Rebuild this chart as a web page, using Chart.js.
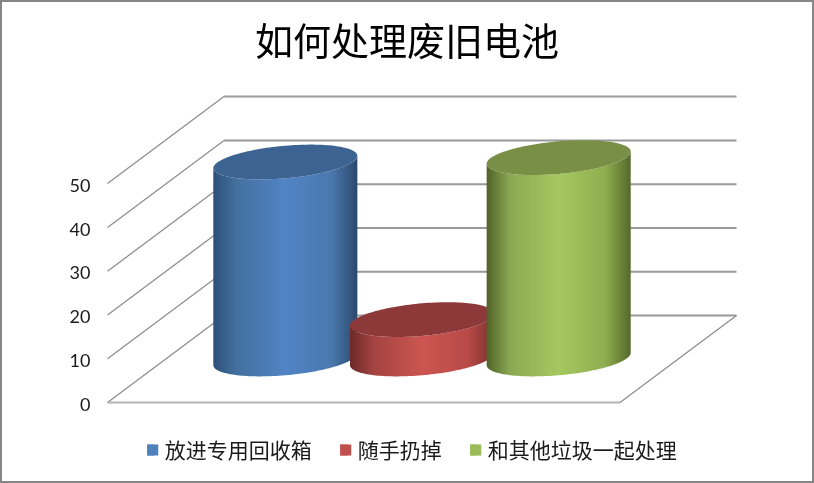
<!DOCTYPE html>
<html>
<head>
<meta charset="utf-8">
<title>如何处理废旧电池</title>
<style>
    html, body { margin: 0; padding: 0; background: #fff; }
    #wrap { position: relative; width: 814px; height: 483px; }
    #frame { position: absolute; inset: 0; box-sizing: border-box; border: 2px solid #868686; pointer-events: none; }
</style>
<script src="https://cdn.jsdelivr.net/npm/chart.js@4/dist/chart.umd.js"></script>
</head>
<body>
<div id="wrap">
    <canvas id="chart" width="814" height="483"></canvas>
    <div id="frame"></div>
</div>
<script>
const chartTitle = "如何处理废旧电池";
const categories = ["处理方式"];
const seriesNames = ["放进专用回收箱", "随手扔掉", "和其他垃圾一起处理"];
const recycleBin = [45];
const throwAway = [9];
const withTrash = [46];
const yTicks = [0, 10, 20, 30, 40, 50];

const legendColors = ["#4f81bd", "#c0504d", "#9bbb59"];
const topColors = ["#3c6391", "#8e3939", "#788f45"];
const bodyStops = [
    ["#2d4f78", "#43709f", "#5184c4", "#4a78ae", "#2b486c"],
    ["#6b2a28", "#a34341", "#cc5550", "#b84a47", "#7c302e"],
    ["#4f6228", "#8aa852", "#a6c85f", "#8fae50", "#556a2b"]
];
const stopAt = [0, 0.16, 0.5, 0.82, 1];

// how far the bars and the back wall sit behind the front plane
const backWall = { dx: 116.5, dy: -87 };
const barDepth = 0.5;

function drawWalls(chart) {
    const { ctx, chartArea, scales } = chart;
    const left = chartArea.left;
    const right = chartArea.right;
    ctx.save();
    yTicks.forEach(function (tick) {
        const y = scales.y.getPixelForValue(tick);
        ctx.strokeStyle = "#8c8c8c";
        ctx.lineWidth = 1.25;
        ctx.beginPath();
        ctx.moveTo(left, y);
        ctx.lineTo(left + backWall.dx, y + backWall.dy);
        ctx.stroke();
        ctx.strokeStyle = "#999999";
        ctx.lineWidth = 2;
        ctx.beginPath();
        ctx.moveTo(left + backWall.dx, y + backWall.dy);
        ctx.lineTo(right + backWall.dx, y + backWall.dy);
        ctx.stroke();
    });
    const floorY = scales.y.getPixelForValue(0);
    ctx.strokeStyle = "#8c8c8c";
    ctx.lineWidth = 1.25;
    ctx.beginPath();
    ctx.moveTo(right, floorY);
    ctx.lineTo(right + backWall.dx, floorY + backWall.dy);
    ctx.stroke();
    ctx.strokeStyle = "#b4b4b4";
    ctx.lineWidth = 2;
    ctx.beginPath();
    ctx.moveTo(left, floorY);
    ctx.lineTo(right, floorY);
    ctx.stroke();
    ctx.restore();
}

function ellipsePoint(cx, cy, halfWidth, t) {
    return {
        x: cx + halfWidth * Math.cos(t),
        y: cy - halfWidth * 0.085 * Math.cos(t) + halfWidth * 0.226 * Math.sin(t)
    };
}

function drawCylinder(ctx, bar, index) {
    const halfWidth = bar.width / 2;
    const cx = bar.x + backWall.dx * barDepth;
    const topY = bar.y + backWall.dy * barDepth;
    const baseY = bar.base + backWall.dy * barDepth;
    const steps = 72;

    const gradient = ctx.createLinearGradient(cx - halfWidth, 0, cx + halfWidth, 0);
    bodyStops[index].forEach(function (color, i) {
        gradient.addColorStop(stopAt[i], color);
    });

    ctx.beginPath();
    for (let i = 0; i <= steps; i++) {
        const p = ellipsePoint(cx, baseY, halfWidth, Math.PI - Math.PI * i / steps);
        ctx.lineTo(p.x, p.y);
    }
    for (let i = 0; i <= steps; i++) {
        const p = ellipsePoint(cx, topY, halfWidth, Math.PI * i / steps);
        ctx.lineTo(p.x, p.y);
    }
    ctx.closePath();
    ctx.fillStyle = gradient;
    ctx.fill();

    ctx.beginPath();
    for (let i = 0; i <= steps * 2; i++) {
        const p = ellipsePoint(cx, topY, halfWidth, Math.PI * i / steps);
        ctx.lineTo(p.x, p.y);
    }
    ctx.closePath();
    ctx.fillStyle = topColors[index];
    ctx.fill();
}

const cylinderPlugin = {
    id: "cylinders",
    afterLayout(chart) {
        // title and legend are centred on the whole picture, not on the front plane
        chart.titleBlock.left += 97;
        chart.titleBlock.right += 97;
        chart.legend.left += 102;
        chart.legend.right += 102;
        chart.legend.top += 8.5;
        chart.legend.bottom += 8.5;
    },
    beforeDatasetsDraw(chart) {
        drawWalls(chart);
    },
    beforeDatasetDraw() {
        return false;
    },
    afterDatasetsDraw(chart) {
        // front bars overlap the ones before them, so keep series order here
        chart.data.datasets.forEach(function (dataset, index) {
            chart.getDatasetMeta(index).data.forEach(function (bar) {
                drawCylinder(chart.ctx, bar, index);
            });
        });
    },
    afterDraw(chart) {
        const ctx = chart.ctx;
        chart.legend.legendHitBoxes.forEach(function (box, index) {
            ctx.fillStyle = legendColors[index];
            ctx.fillRect(box.left, box.top + (box.height - 11) / 2, 11, 11);
        });
    }
};

new Chart(document.getElementById("chart"), {
    type: "bar",
    data: {
        labels: categories,
        datasets: [
            { label: seriesNames[0], data: recycleBin, backgroundColor: legendColors[0], barPercentage: 1.054 },
            { label: seriesNames[1], data: throwAway, backgroundColor: legendColors[1], barPercentage: 1.054 },
            { label: seriesNames[2], data: withTrash, backgroundColor: legendColors[2], barPercentage: 1.054 }
        ]
    },
    options: {
        responsive: false,
        animation: false,
        layout: { padding: { right: 194, bottom: 21 } },
        plugins: {
            tooltip: { enabled: false },
            title: {
                display: true,
                text: chartTitle,
                color: "#000000",
                font: { family: "'Noto Sans CJK SC'", size: 38, weight: "normal", lineHeight: 1.2 },
                padding: { top: 18, bottom: 120 }
            },
            legend: {
                position: "bottom",
                labels: {
                    color: "#1a1a1a",
                    font: { family: "'Noto Sans CJK SC'", size: 21 },
                    boxWidth: 7,
                    boxHeight: 11,
                    padding: 28.5
                }
            }
        },
        scales: {
            x: { display: false },
            y: {
                min: 0,
                max: 50,
                grid: { display: false },
                border: { display: false },
                afterFit(scale) { scale.width = 107.5; },
                afterBuildTicks(scale) { scale.ticks = yTicks.map(function (v) { return { value: v }; }); },
                ticks: {
                    color: "#1a1a1a",
                    font: { family: "Lato", size: 18 },
                    padding: 9,
                    labelOffset: 2.5
                }
            }
        }
    },
    plugins: [cylinderPlugin]
});
</script>
</body>
</html>
